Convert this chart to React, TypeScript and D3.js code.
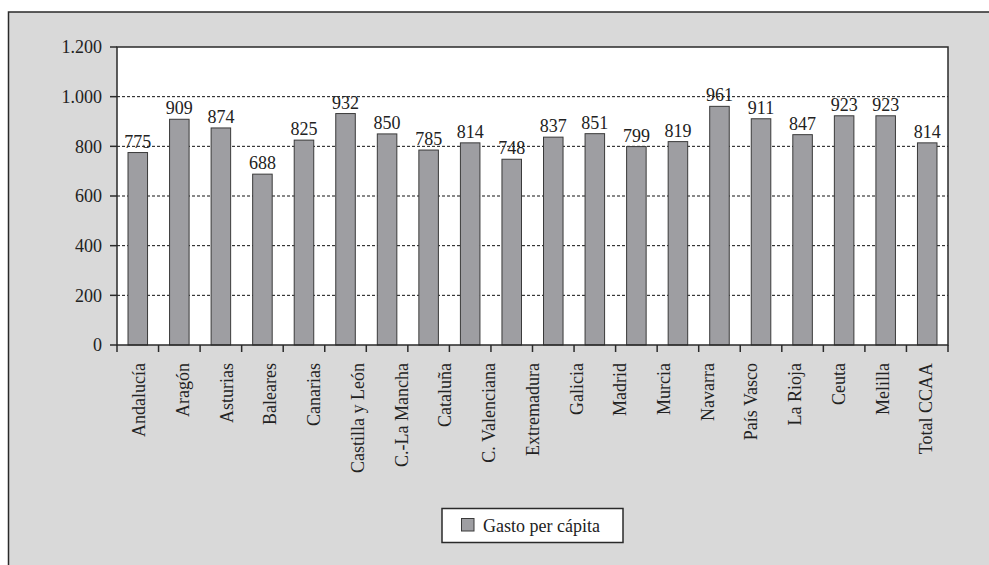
import React from "react";
import * as d3 from "d3";

const barValues = [775, 909, 874, 688, 825, 932, 850, 785, 814, 748, 837, 851, 799, 819, 961, 911, 847, 923, 923, 814];
const categoryLabels = [
  "Andalucía", "Aragón", "Asturias", "Baleares", "Canarias", "Castilla y León",
  "C.-La Mancha", "Cataluña", "C. Valenciana", "Extremadura", "Galicia", "Madrid",
  "Murcia", "Navarra", "País Vasco", "La Rioja", "Ceuta", "Melilla", "Total CCAA",
];
const yTicks = [0, 200, 400, 600, 800, 1000, 1200];
const seriesName = "Gasto per cápita";

const W = 989, H = 565;
const L = 117, R = 948, T = 47, B = 345;
const FONT = "Liberation Serif, Times New Roman, Times, DejaVu Serif, serif";
const BAR = "#9e9ea2";
const DARK = "#2a2a2a";

export default function App() {
  const y = d3.scaleLinear().domain([0, 1200]).range([B, T]);
  const xBars = d3.scaleBand<number>().domain(d3.range(barValues.length)).range([L, R]).paddingInner(0.53).paddingOuter(0.265);
  const xSlots = d3.scaleBand<number>().domain(d3.range(barValues.length)).range([L, R]);
  const xLabels = d3.scaleBand<string>().domain(categoryLabels).range([L, R]);
  const fmt = (v: number) => d3.format(",")(v).replace(/,/g, ".");
  const ts = { fontFamily: FONT, fontSize: "18px" };

  return (
    <svg width={W} height={H} style={{ position: "fixed", left: 0, top: 0, fontFamily: FONT }}>
      <rect x={0} y={0} width={W} height={H} fill="#fff" />
      <rect x={8.5} y={12} width={W + 10} height={H + 10} fill="#d9d9d9" stroke={DARK} strokeWidth={1.5} />
      <rect x={L} y={T} width={R - L} height={B - T} fill="#fff" />
      {yTicks.filter((t) => t > 0 && t < 1200).map((t) => (
        <line key={"g" + t} x1={L} x2={R} y1={y(t)} y2={y(t)} stroke="#111" strokeWidth={1} strokeDasharray="3,2" />
      ))}
      {barValues.map((v, i) => (
        <g key={"b" + i}>
          <rect x={xBars(i)} y={y(v)} width={xBars.bandwidth()} height={B - y(v)} fill={BAR} stroke="#3a3a3a" strokeWidth={1} />
          <text x={(xBars(i) as number) + xBars.bandwidth() / 2} y={y(v) - 5} textAnchor="middle" style={ts} fill="#222">{fmt(v)}</text>
        </g>
      ))}
      <rect x={L} y={T} width={R - L} height={B - T} fill="none" stroke={DARK} strokeWidth={1.5} />
      {yTicks.map((t) => (
        <g key={"y" + t}>
          <line x1={L - 7} x2={L} y1={y(t)} y2={y(t)} stroke={DARK} strokeWidth={1.5} />
          <text x={L - 15} y={y(t)} dy="0.35em" textAnchor="end" style={ts} fill="#222">{fmt(t)}</text>
        </g>
      ))}
      {d3.range(barValues.length + 1).map((i) => {
        const xx = i < barValues.length ? (xSlots(i) as number) : R;
        return <line key={"xt" + i} x1={xx} x2={xx} y1={B} y2={B + 7} stroke={DARK} strokeWidth={1.5} />;
      })}
      {categoryLabels.map((c) => {
        const cx = (xLabels(c) as number) + xLabels.bandwidth() / 2;
        return (
          <text key={c} transform={`translate(${cx},363) rotate(-90)`} dy="0.35em" textAnchor="end" style={ts} fill="#222">{c}</text>
        );
      })}
      <rect x={442} y={508.5} width={181} height={34} fill="#fff" stroke={DARK} strokeWidth={1.5} />
      <rect x={461.5} y={518.5} width={12.5} height={12.5} fill={BAR} stroke="#3a3a3a" strokeWidth={1} />
      <text x={483} y={532} style={ts} fill="#222">{seriesName}</text>
    </svg>
  );
}
